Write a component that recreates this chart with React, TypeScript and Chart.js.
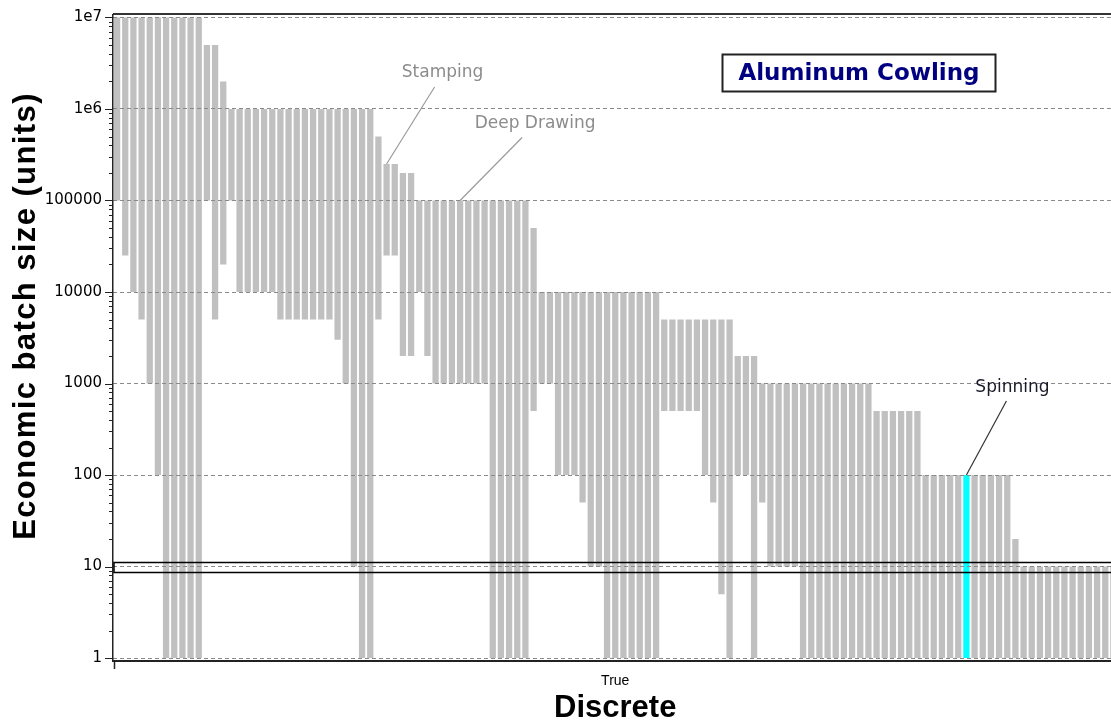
import React, { useEffect, useRef } from 'react';
import { Chart, registerables } from 'chart.js';

Chart.register(...registerables);

// ---- data ----
const discreteGroup = 'True';

// lower end of the economic batch size range for each process (units)
const batchMin = [
  100000, 25000, 10000, 5000, 1000, 100, 1, 1, 1, 1, 1,
  100000, 5000, 20000, 100000,
  10000, 10000, 10000, 10000, 10000,
  5000, 5000, 5000, 5000, 5000, 5000, 5000,
  3000, 1000, 10, 1, 1,
  5000, 25000, 25000, 2000, 2000, 10000, 2000,
  1000, 1000, 1000, 1000, 1000, 1000, 1000,
  1, 1, 1, 1, 1,
  500, 1000, 1000, 100, 100, 100, 50, 10, 10,
  1, 1, 1, 1, 1, 1, 1,
  500, 500, 500, 500, 500, 100, 50, 5, 1,
  100, 100, 1, 50, 10, 10, 10, 10,
  1, 1, 1, 1, 1, 1, 1, 1, 1,
  1, 1, 1, 1, 1, 1,
  1, 1, 1, 1, 1, 1, 1, 1, 1, 1, 1,
  1,
  1, 1, 1, 1, 1, 1, 1, 1, 1, 1, 1, 1,
];

// upper end of the economic batch size range for each process (units)
const batchMax = [
  1e7, 1e7, 1e7, 1e7, 1e7, 1e7, 1e7, 1e7, 1e7, 1e7, 1e7,
  5e6, 5e6, 2e6, 1e6,
  1e6, 1e6, 1e6, 1e6, 1e6,
  1e6, 1e6, 1e6, 1e6, 1e6, 1e6, 1e6,
  1e6, 1e6, 1e6, 1e6, 1e6,
  500000, 250000, 250000, 200000, 200000, 100000, 100000,
  100000, 100000, 100000, 100000, 100000, 100000, 100000,
  100000, 100000, 100000, 100000, 100000,
  50000, 10000, 10000, 10000, 10000, 10000, 10000, 10000, 10000,
  10000, 10000, 10000, 10000, 10000, 10000, 10000,
  5000, 5000, 5000, 5000, 5000, 5000, 5000, 5000, 5000,
  2000, 2000, 2000, 1000, 1000, 1000, 1000, 1000,
  1000, 1000, 1000, 1000, 1000, 1000, 1000, 1000, 1000,
  500, 500, 500, 500, 500, 500,
  100, 100, 100, 100, 100, 100, 100, 100, 100, 100, 100,
  20,
  10, 10, 10, 10, 10, 10, 10, 10, 10, 10, 10, 10,
];

const highlightIndex = 104; // Spinning

const calloutTexts = ['Stamping', 'Deep Drawing', 'Spinning'];
const calloutBars = [33, 42, 104];

const yTickValues = [1, 10, 100, 1000, 10000, 100000, 1000000, 10000000];
const yTickLabels = ['1', '10', '100', '1000', '10000', '100000', '1e6', '1e7'];

const selectionRange = [8.7, 11.3];

const chartTitle = 'Aluminum Cowling';
const yTitle = 'Economic batch size (units)';
const xTitle = 'Discrete';

// ---- styles ----
const calloutStyles = [
  { lineEnd: [48, -77], text: [56, -91], color: '#8c8c8c', lineColor: '#9a9a9a' },
  { lineEnd: [62, -63], text: [75, -77], color: '#8c8c8c', lineColor: '#9a9a9a' },
  { lineEnd: [40, -74], text: [46, -87], color: '#1a1a2a', lineColor: '#333333' },
];

const overlayPlugin = {
  id: 'overlay',
  afterDraw(chart: any) {
    const { ctx, chartArea: a, scales } = chart;
    const x = scales.x;
    const y = scales.y;
    ctx.save();

    // frame: top line and y axis line
    ctx.strokeStyle = '#333';
    ctx.lineWidth = 2;
    ctx.beginPath();
    ctx.moveTo(a.left, a.top);
    ctx.lineTo(a.right + 20, a.top);
    ctx.stroke();
    ctx.strokeStyle = '#222';
    ctx.lineWidth = 1.5;
    ctx.beginPath();
    ctx.moveTo(a.left - 0.25, a.top);
    ctx.lineTo(a.left - 0.25, a.bottom);
    ctx.stroke();

    // y-axis major/minor tick marks
    ctx.strokeStyle = '#222';
    ctx.lineWidth = 1;
    for (let e = 0; e <= 7; e++) {
      for (let m = 1; m <= 9; m++) {
        const v = m * Math.pow(10, e);
        if (v > 1e7) break;
        const py = Math.round(y.getPixelForValue(v)) + 0.5;
        const len = m === 1 ? 8 : 4;
        ctx.beginPath();
        ctx.moveTo(a.left - len, py);
        ctx.lineTo(a.left, py);
        ctx.stroke();
      }
    }

    // small x tick at the left end
    ctx.lineWidth = 1.5;
    ctx.beginPath();
    ctx.moveTo(a.left + 1.5, a.bottom);
    ctx.lineTo(a.left + 1.5, a.bottom + 8);
    ctx.stroke();

    // selection band
    const yTop = Math.round(y.getPixelForValue(selectionRange[1])) + 0.5;
    const yBot = Math.round(y.getPixelForValue(selectionRange[0])) + 0.5;
    ctx.strokeStyle = '#000';
    ctx.lineWidth = 1.5;
    ctx.strokeRect(a.left + 1, yTop, a.right + 50 - a.left, yBot - yTop);

    // callouts
    ctx.font = '17px "DejaVu Sans"';
    ctx.textAlign = 'center';
    ctx.textBaseline = 'middle';
    calloutTexts.forEach((t, k) => {
      const idx = calloutBars[k];
      const st = calloutStyles[k];
      const px = x.getPixelForValue(idx);
      const py = y.getPixelForValue(batchMax[idx]);
      ctx.strokeStyle = st.lineColor;
      ctx.lineWidth = 1.2;
      ctx.beginPath();
      ctx.moveTo(px, py);
      ctx.lineTo(px + st.lineEnd[0], py + st.lineEnd[1]);
      ctx.stroke();
      ctx.fillStyle = st.color;
      ctx.fillText(t, px + st.text[0], py + st.text[1]);
    });

    // title box
    const bx = 722.5, by = 54.5, bw = 273, bh = 37;
    ctx.fillStyle = '#fff';
    ctx.fillRect(bx, by, bw, bh);
    ctx.strokeStyle = '#222';
    ctx.lineWidth = 2;
    ctx.strokeRect(bx, by, bw, bh);
    ctx.fillStyle = '#000080';
    ctx.font = 'bold 23px "DejaVu Sans"';
    ctx.fillText(chartTitle, bx + bw / 2, by + bh / 2 + 1);

    // y axis title
    ctx.save();
    ctx.translate(26, 316);
    ctx.rotate(-Math.PI / 2);
    ctx.fillStyle = '#000';
    ctx.font = 'bold 31px "Liberation Sans"';
    (ctx as any).letterSpacing = '1.4px';
    ctx.textAlign = 'center';
    ctx.textBaseline = 'middle';
    ctx.fillText(yTitle, 0, 0);
    ctx.restore();

    ctx.restore();
  },
};

export default function App() {
  const canvasRef = useRef<HTMLCanvasElement | null>(null);

  useEffect(() => {
    const canvas = canvasRef.current;
    if (!canvas) return;
    const labels = batchMin.map((_, i) => String(i + 1));
    const groupLabelIndex = Math.floor(batchMin.length / 2);
    const colors = batchMin.map((_, i) => (i === highlightIndex ? '#00ffff' : '#c0c0c0'));

    const chart = new Chart(canvas, {
      type: 'bar',
      data: {
        labels,
        datasets: [
          {
            data: batchMin.map((lo, i) => [lo, batchMax[i]]) as any,
            backgroundColor: colors,
            borderWidth: 0,
            barPercentage: 0.77,
            categoryPercentage: 1.0,
          },
        ],
      },
      options: {
        responsive: false,
        animation: false,
        layout: { padding: { top: 14, right: 2.5, left: 0, bottom: 0 } },
        plugins: {
          legend: { display: false },
          tooltip: { enabled: false },
        },
        scales: {
          x: {
            type: 'category',
            offset: true,
            grid: { display: false, drawTicks: false },
            border: { display: true, color: '#222', width: 2 },
            ticks: {
              autoSkip: false,
              maxRotation: 0,
              minRotation: 0,
              padding: 12,
              color: '#000',
              font: { family: 'Liberation Sans', size: 14 },
              callback: (_v: any, i: number) => (i === groupLabelIndex ? discreteGroup : ''),
            },
            title: {
              display: true,
              text: xTitle,
              color: '#000',
              font: { family: 'Liberation Sans', size: 31, weight: 'bold', lineHeight: 1.1 },
              padding: 0,
            },
            afterFit: (s: any) => {
              s.height = 65;
              s.paddingLeft = 0;
              s.paddingRight = 0;
            },
          } as any,
          y: {
            type: 'logarithmic',
            min: 0.93,
            max: 1.09e7,
            afterBuildTicks: (s: any) => {
              s.ticks = yTickValues.map((v) => ({ value: v }));
            },
            grid: { color: '#8a8a8a', lineWidth: 1, z: 1, drawTicks: false },
            border: { display: false, dash: [4, 3] },
            ticks: {
              autoSkip: false,
              padding: 11,
              color: '#000',
              font: { family: 'DejaVu Sans', size: 15 },
              callback: (_v: any, i: number) => yTickLabels[i],
            },
            title: { display: false },
            afterFit: (s: any) => {
              s.width = 113;
              s.paddingTop = 0;
              s.paddingBottom = 0;
            },
          } as any,
        },
      },
      plugins: [overlayPlugin],
    });
    return () => chart.destroy();
  }, []);

  return (
    <div
      style={{
        position: 'fixed',
        left: 0,
        top: 0,
        width: 1111,
        height: 726,
        overflow: 'hidden',
        background: '#fff',
      }}
    >
      <canvas ref={canvasRef} width={1120} height={726} style={{ display: 'block' }} />
    </div>
  );
}
